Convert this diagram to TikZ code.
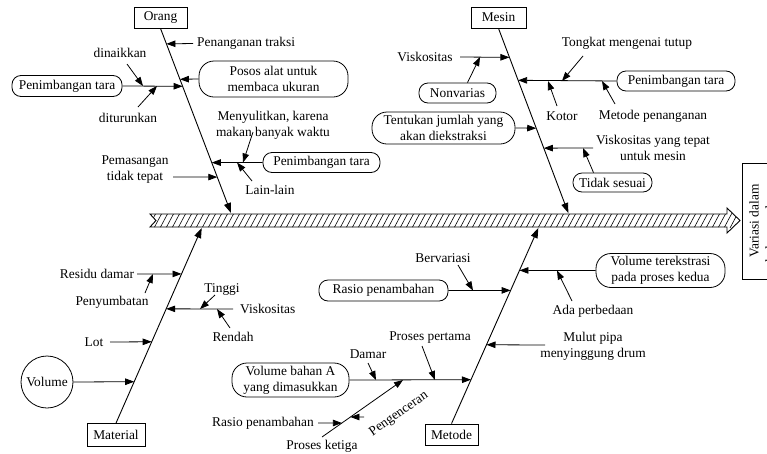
\documentclass[tikz,border=0pt]{standalone}
\usepackage{fontspec}
\setmainfont{Liberation Serif}
\usetikzlibrary{arrows.meta,calc}
\begin{document}
\begin{tikzpicture}[x=1pt,y=-1pt,
  every node/.style={font=\fontsize{13.4}{16}\selectfont, inner sep=0pt},
  lbl/.style={align=center},
  rbox/.style={draw, rounded corners=9pt, align=center, line width=0.8pt},
  rboxtwo/.style={draw, rounded corners=15pt, align=center, line width=0.8pt},
  cbox/.style={draw, line width=0.8pt, minimum height=21pt},
  arr/.style={-{Triangle[length=9pt,width=6.5pt]}, line width=0.8pt},
  bone/.style={-{Triangle[length=10pt,width=7pt]}, line width=0.9pt},
  plain/.style={line width=0.8pt},
  ]
\path[use as bounding box, clip] (0,0) rectangle (767,453);

% ---------- spine ----------
\coordinate (sp1) at (150,214);
\coordinate (sp2) at (727,214);
\coordinate (sp3) at (727,208);
\coordinate (sptip) at (740,220.5);
\coordinate (sp4) at (727,233);
\coordinate (sp5) at (727,227);
\coordinate (sp6) at (150,227);
\coordinate (spn) at (156,220.5);
\begin{scope}
  \clip (sp1) -- (sp2) -- (sp3) -- (sptip) -- (sp4) -- (sp5) -- (sp6) -- (spn) -- cycle;
  \foreach \x in {136,142,...,748} \draw[line width=0.6pt] (\x,228) -- (\x+8,213);
\end{scope}
\draw[line width=0.9pt] (sp1) -- (sp2) -- (sp3) -- (sptip) -- (sp4) -- (sp5) -- (sp6) -- (spn) -- cycle;

\node[draw, line width=0.8pt, rotate=90, minimum width=116pt, minimum height=40pt, align=center] (effect) at (762,221) {Variasi dalam\\keluaran damar};

% ---------- category boxes ----------
\node[cbox, minimum width=53pt] (orang) at (160.5,17.5) {Orang};
\node[cbox, minimum width=55pt] (mesin) at (498.5,17.5) {Mesin};
\node[cbox, minimum width=58pt, minimum height=23pt] (material) at (116,435) {Material};
\node[cbox, minimum width=53pt] (metode) at (451.5,434.5) {Metode};

\coordinate (ob2) at (231,213);
\coordinate (mb2) at (568.3,213);
\coordinate (mt2) at (201.7,228);
\coordinate (me2) at (538.3,228);

\draw[bone] (orang.south) -- (ob2);
\draw[bone] (mesin.south) -- (mb2);
\draw[bone] (material.north) -- (mt2);
\draw[bone] (metode.north) -- (me2);

% ---------- Orang ----------
\node[lbl, anchor=west] (pentraksi) at (197,43.5) {Penanganan traksi};
\draw[arr] (pentraksi.west) ++(-4,0) coordinate (ptr) -- ($(orang.south)!0.0838!(ob2)$);

\node[rbox, minimum width=110pt, minimum height=21pt] (pt1) at (67,86) {Penimbangan tara};
\draw[arr] (pt1.east) -- ($(orang.south)!0.3135!(ob2)$);
\node[lbl] (dinaik) at (120,53) {dinaikkan};
\coordinate (dn1) at (127,64);
\coordinate (dn2) at (143,86);
\draw[arr] (dn1) -- (dn2);
\node[lbl] (diturun) at (128,118) {diturunkan};
\coordinate (dt1) at (138,107);
\coordinate (dt2) at (157,86);
\draw[arr] (dt1) -- (dt2);

\node[rboxtwo, minimum width=149pt, minimum height=36pt] (posos) at (273.5,79) {Posos alat untuk\\membaca ukuran};
\draw[arr] (posos.west) -- ($(orang.south)!0.2757!(ob2)$);

\node[rbox, minimum width=117pt, minimum height=20pt] (pt2) at (321.5,162.5) {Penimbangan tara};
\draw[arr] (pt2.west) -- ($(orang.south)!0.7270!(ob2)$);
\node[lbl] (menyul) at (273,125) {Menyulitkan, karena\\makan banyak waktu};
\coordinate (my1) at (253,132);
\coordinate (my2) at (243,162.5);
\draw[arr] (my1) -- (my2);
\node[lbl] (lain) at (270,190) {Lain-lain};
\coordinate (ll1) at (252,181);
\coordinate (ll2) at (237,162.5);
\draw[arr] (ll1) -- (ll2);

\node[lbl] (pemas) at (135,170) {Pemasangan\\tidak tepat};
\coordinate (pm1) at (173,177);
\draw[arr] (pm1) -- ($(orang.south)!0.8054!(ob2)$);

% ---------- Mesin ----------
\node[lbl] (visk1) at (425,57) {Viskositas};
\coordinate (vk1) at (460,57);
\draw[arr] (vk1) -- ($(mesin.south)!0.1568!(mb2)$);
\node[rbox, minimum width=77pt, minimum height=20pt] (nonvar) at (457.5,93) {Nonvarias};
\coordinate (nv2) at (480,57);
\draw[arr] (nonvar.north) ++(10,0) -- (nv2);

\node[rbox, minimum width=118pt, minimum height=20pt] (pt3) at (676,81) {Penimbangan tara};
\draw[arr] (pt3.west) -- ($(mesin.south)!0.2811!(mb2)$);
\node[lbl] (tongkat) at (627,43) {Tongkat mengenai tutup};
\coordinate (tk1) at (583,56);
\coordinate (tk2) at (562,81);
\draw[arr] (tk1) -- (tk2);
\node[lbl] (kotor) at (562,116) {Kotor};
\coordinate (ko1) at (557,106);
\coordinate (ko2) at (548,81);
\draw[arr] (ko1) -- (ko2);
\node[lbl] (metpen) at (653,116) {Metode penanganan};
\coordinate (mp1) at (615,104);
\coordinate (mp2) at (602,81);
\draw[arr] (mp1) -- (mp2);

\node[rboxtwo, minimum width=143pt, minimum height=32pt] (tentukan) at (443.5,128) {Tentukan jumlah yang\\akan diekstraksi};
\draw[arr] (tentukan.east) -- ($(mesin.south)!0.5405!(mb2)$);

\node[lbl] (visk2) at (653,148) {Viskositas yang tepat\\untuk mesin};
\coordinate (vt1) at (593,148);
\draw[arr] (vt1) -- ($(mesin.south)!0.6486!(mb2)$);
\node[rbox, minimum width=79pt, minimum height=19pt] (tidak) at (612.5,182.5) {Tidak sesuai};
\coordinate (ts2) at (583,148);
\draw[arr] (tidak.north) ++(-19,0) -- (ts2);

% ---------- Material ----------
\node[lbl] (residu) at (97,274) {Residu damar};
\coordinate (rd1) at (137,274);
\draw[arr] (rd1) -- ($(material.north)!0.7647!(mt2)$);
\node[lbl] (penyum) at (112,302) {Penyumbatan};
\coordinate (py1) at (145,293);
\coordinate (py2) at (153,274);
\draw[arr] (py1) -- (py2);

\node[lbl, anchor=west] (visk3) at (240,309) {Viskositas};
\coordinate (v31) at (233,309);
\draw[arr] (v31) -- ($(material.north)!0.5857!(mt2)$);
\node[lbl] (tinggi) at (222,290) {Tinggi};
\coordinate (tg1) at (215,295);
\coordinate (tg2) at (200,309);
\draw[arr] (tg1) -- (tg2);
\node[lbl] (rendah) at (233,337) {Rendah};
\coordinate (rn1) at (230,328);
\coordinate (rn2) at (217,309);
\draw[arr] (rn1) -- (rn2);

\node[lbl] (lot) at (94,342) {Lot};
\coordinate (lt1) at (110,342);
\draw[arr] (lt1) -- ($(material.north)!0.4169!(mt2)$);

\node[draw, circle, minimum size=52pt, line width=0.8pt] (vol) at (47,382) {Volume};
\draw[arr] (vol.east) -- ($(material.north)!0.2123!(mt2)$);

% ---------- Metode ----------
\node[rbox, minimum width=129pt, minimum height=21pt] (rasio) at (383.5,290.5) {Rasio penambahan};
\draw[arr] (rasio.east) -- ($(metode.north)!0.6811!(me2)$);
\node[lbl] (berv) at (443,258) {Bervariasi};
\coordinate (bv1) at (458,265);
\coordinate (bv2) at (473,290.5);
\draw[arr] (bv1) -- (bv2);

\node[rboxtwo, minimum width=129pt, minimum height=34pt] (volter) at (660.5,270.5) {Volume terekstrasi\\pada proses kedua};
\draw[arr] (volter.west) -- ($(metode.north)!0.7832!(me2)$);
\node[lbl] (adaper) at (593,311) {Ada perbedaan};
\coordinate (ap1) at (572,301);
\coordinate (ap2) at (557,270.5);
\draw[arr] (ap1) -- (ap2);

\node[lbl] (mulut) at (593,346) {Mulut pipa\\menyinggung drum};
\coordinate (ml1) at (545,345);
\draw[arr] (ml1) -- ($(metode.north)!0.4031!(me2)$);

\node[rboxtwo, minimum width=117pt, minimum height=34pt] (volbahan) at (290.5,380) {Volume bahan A\\yang dimasukkan};
\draw[arr] (volbahan.east) -- ($(metode.north)!0.2245!(me2)$);
\node[lbl] (damar) at (368,354) {Damar};
\coordinate (dm1) at (368,363);
\coordinate (dm2) at (376,380);
\draw[arr] (dm1) -- (dm2);
\node[lbl] (proper) at (430,338) {Proses pertama};
\coordinate (pp1) at (422,346);
\coordinate (pp2) at (435,380);
\draw[arr] (pp1) -- (pp2);

\coordinate (sb1) at (322,437);
\coordinate (sb2) at (403,380);
\draw[arr] (sb1) -- (sb2);
\node[lbl] (proket) at (322,446) {Proses ketiga};
\node[lbl] (rasio2) at (263,423) {Rasio penambahan};
\coordinate (rs1) at (318,423);
\draw[arr] (rs1) -- ($(sb1)!0.2456!(sb2)$);
\node[lbl, rotate=35] (peng) at (399,414) {Pengenceran};
\coordinate (pg1) at (364,417);
\draw[arr] (pg1) -- ($(sb1)!0.3509!(sb2)$);

\end{tikzpicture}
\end{document}
